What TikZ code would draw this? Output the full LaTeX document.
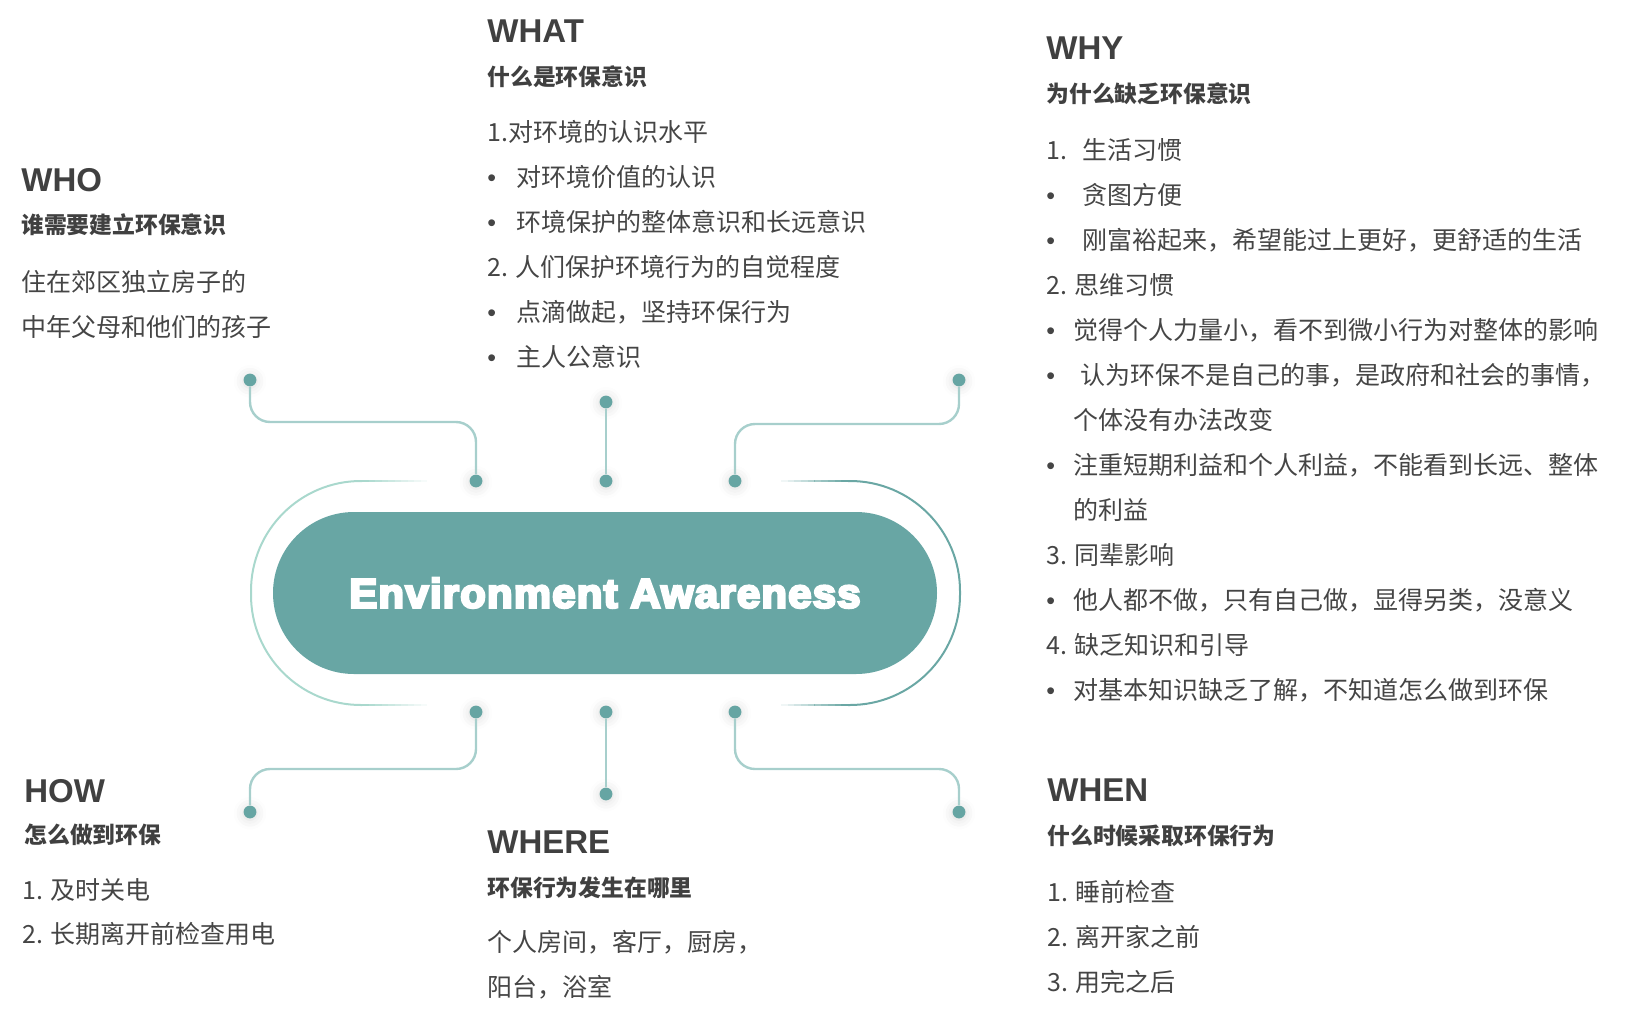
\documentclass[tikz,border=0pt]{standalone}
\usepackage{graphicx}
\usepackage{fontspec}
\setmainfont{Noto Sans CJK SC}
\newfontfamily\titlefont{Liberation Sans}
\newfontfamily\corefont{Liberation Sans Bold}[FakeBold=6, LetterSpace=3]
\usetikzlibrary{shapes.misc,shadows.blur}

\definecolor{coreteal}{HTML}{68A6A4}
\definecolor{dotteal}{HTML}{66A5A3}
\definecolor{linkteal}{HTML}{A7CFCC}
\definecolor{ringmint}{HTML}{A9D8CD}
\definecolor{ringteal}{HTML}{6AA7A4}
\definecolor{inkgray}{HTML}{404040}
\definecolor{bodygray}{HTML}{454545}

\newcommand{\itemdot}[1][14.5pt]{\makebox[#1][l]{\titlefont •}}
\newcommand{\itemnum}[2][18pt]{\makebox[#1][l]{#2}}

\tikzset{
  pill/.style={rounded rectangle, fill=coreteal, minimum width=332pt, minimum height=81pt,
    inner sep=0pt, text=white, font=\corefont\fontsize{20.5}{24}\selectfont},
  hub/.style={circle, fill=dotteal, minimum size=6.4pt, inner sep=0pt,
    blur shadow={shadow xshift=0pt, shadow yshift=-0.6pt, shadow blur radius=5pt, shadow opacity=14}},
  link/.style={draw=linkteal, line width=1.2pt, rounded corners=10pt},
  ring/.style={line width=1pt, rounded corners=55pt},
  head/.style={anchor=base west, inner sep=0pt, text=inkgray, font=\titlefont\bfseries\fontsize{16.5}{20}\selectfont},
  subhead/.style={anchor=base west, inner sep=0pt, text=inkgray, font=\bfseries\fontsize{11.4}{14}\selectfont},
  body/.style={anchor=base west, inner sep=0pt, text=bodygray, font=\fontsize{12.5}{15}\selectfont}
}

\begin{document}
\begin{tikzpicture}[x=0.5pt,y=-0.5pt]
\useasboundingbox (0,0) rectangle (1633,1017);

\draw[ring, draw=ringmint] (362,481) -- (251,481) -- (251,705) -- (362,705);
\draw[ring, draw=ringteal] (848,481) -- (960,481) -- (960,705) -- (848,705);
\foreach \k [evaluate=\k as \op using 1-\k/10] in {0,...,9} {
  \draw[ringmint, line width=1pt, opacity=\op] (362+6.5*\k,481) -- ++(6.6,0);
  \draw[ringmint, line width=1pt, opacity=\op] (362+6.5*\k,705) -- ++(6.6,0);
  \draw[ringteal, line width=1pt, opacity=\op] (848-6.7*\k,481) -- ++(-6.8,0);
  \draw[ringteal, line width=1pt, opacity=\op] (848-6.7*\k,705) -- ++(-6.8,0);
}

\node[pill] (core) at (605,593) {\scalebox{1.02}[1]{Environment Awareness}};

\node[hub] (c1) at (476,481) {};
\node[hub] (c2) at (606,481) {};
\node[hub] (c3) at (735,481) {};
\node[hub] (c4) at (476,712) {};
\node[hub] (c5) at (606,712) {};
\node[hub] (c6) at (735,712) {};
\node[hub] (whoDot) at (250,380) {};
\node[hub] (whatDot) at (606,402) {};
\node[hub] (whyDot) at (959,380) {};
\node[hub] (howDot) at (250,812) {};
\node[hub] (whereDot) at (606,794) {};
\node[hub] (whenDot) at (959,812) {};

\draw[link] (whoDot) -- ++(0,42) -| (c1);
\draw[link] (c2) -- (whatDot);
\draw[link] (whyDot) -- ++(0,44) -| (c3);
\draw[link] (c4) -- ++(0,57) -| (howDot);
\draw[link] (c5) -- (whereDot);
\draw[link] (c6) -- ++(0,57) -| (whenDot);

\node[head] (whoHead) at (21,191) {WHO};
\node[subhead] (whoSub) at (21,233.5) {谁需要建立环保意识};
\node[body] (who1) at (21,291) {住在郊区独立房子的};
\node[body] (who2) at (21,336) {中年父母和他们的孩子};

\node[head] (whatHead) at (487,42) {WHAT};
\node[subhead] (whatSub) at (487,85) {什么是环保意识};
\foreach \t [count=\i] in {1.对环境的认识水平, \itemdot 对环境价值的认识,
    \itemdot 环境保护的整体意识和长远意识, 2. 人们保护环境行为的自觉程度,
    \itemdot 点滴做起，坚持环保行为, \itemdot 主人公意识}
  \node[body] (what\i) at (487,96+45*\i) {\t};

\node[head] (whyHead) at (1046,59.5) {WHY};
\node[subhead] (whySub) at (1046,102) {为什么缺乏环保意识};
\foreach \t [count=\i] in {\itemnum{1.}生活习惯, \itemdot[18pt]贪图方便,
    \itemdot[18pt]刚富裕起来，希望能过上更好，更舒适的生活, 2. 思维习惯,
    \itemdot[13.5pt]觉得个人力量小，看不到微小行为对整体的影响,
    \itemdot[17pt]认为环保不是自己的事，是政府和社会的事情，,
    \hspace*{13.5pt}个体没有办法改变,
    \itemdot[13.5pt]注重短期利益和个人利益，不能看到长远、整体,
    \hspace*{13.5pt}的利益, 3. 同辈影响,
    \itemdot[13.5pt]他人都不做，只有自己做，显得另类，没意义,
    4. 缺乏知识和引导, \itemdot[13.5pt]对基本知识缺乏了解，不知道怎么做到环保}
  \node[body] (why\i) at (1046,114+45*\i) {\t};

\node[head] (howHead) at (24,802) {HOW};
\node[subhead] (howSub) at (24,843.5) {怎么做到环保};
\node[body] (how1) at (22,899) {1. 及时关电};
\node[body] (how2) at (22,943.5) {2. 长期离开前检查用电};

\node[head] (whereHead) at (487,853.5) {WHERE};
\node[subhead] (whereSub) at (487,896.5) {环保行为发生在哪里};
\node[body] (where1) at (487,951.5) {个人房间，客厅，厨房，};
\node[body] (where2) at (487,996) {阳台，浴室};

\node[head] (whenHead) at (1047,801) {WHEN};
\node[subhead] (whenSub) at (1047,844.5) {什么时候采取环保行为};
\foreach \t [count=\i] in {1. 睡前检查, 2. 离开家之前, 3. 用完之后}
  \node[body] (when\i) at (1047,856+45*\i) {\t};
\end{tikzpicture}
\end{document}
